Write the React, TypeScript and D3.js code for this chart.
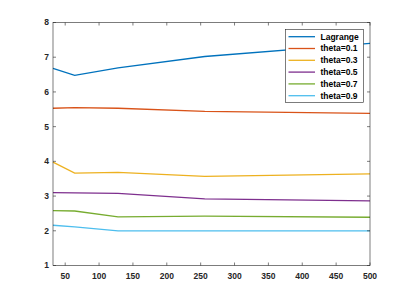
import { useEffect, useRef } from "react";
import * as d3 from "d3";

const xs = [32, 64, 128, 256, 500];
const seriesNames = ["Lagrange", "theta=0.1", "theta=0.3", "theta=0.5", "theta=0.7", "theta=0.9"];
const lagrange = [6.68, 6.48, 6.69, 7.02, 7.4];
const theta01 = [5.53, 5.55, 5.53, 5.44, 5.38];
const theta03 = [3.98, 3.66, 3.68, 3.57, 3.64];
const theta05 = [3.1, 3.09, 3.08, 2.92, 2.86];
const theta07 = [2.58, 2.57, 2.4, 2.42, 2.39];
const theta09 = [2.16, 2.11, 2.0, 2.0, 2.0];
const xTicks = [50, 100, 150, 200, 250, 300, 350, 400, 450, 500];
const yTicks = [1, 2, 3, 4, 5, 6, 7, 8];

const colors = ["#0072BD", "#D95319", "#EDB120", "#7E2F8E", "#77AC30", "#4DBEEE"];

export default function App() {
  const ref = useRef<SVGSVGElement | null>(null);

  useEffect(() => {
    if (!ref.current) return;
    const svg = d3.select(ref.current);
    svg.selectAll("*").remove();

    const left = 53, right = 370, top = 22.5, bottom = 265.5;
    const x = d3.scaleLinear().domain([32, 500]).range([left, right]);
    const y = d3.scaleLinear().domain([1, 8]).range([bottom, top]);
    const font = "'Liberation Sans', Arial, sans-serif";
    const axisColor = "#262626";

    svg.append("rect").attr("width", 409).attr("height", 300).attr("fill", "white");

    const all = [lagrange, theta01, theta03, theta05, theta07, theta09];
    const line = d3
      .line<number>()
      .x((_, i) => x(xs[i]))
      .y((d) => y(d));

    const g = svg.append("g");
    all.forEach((s, k) => {
      g.append("path")
        .attr("d", line(s)!)
        .attr("fill", "none")
        .attr("stroke", colors[k])
        .attr("stroke-width", 1.3);
    });

    // axes box + ticks (inside, all four sides)
    const ax = svg.append("g").attr("stroke", axisColor).attr("stroke-width", 0.6).attr("fill", "none");
    ax.append("rect")
      .attr("x", left)
      .attr("y", top)
      .attr("width", right - left)
      .attr("height", bottom - top);
    const tl = 3;
    xTicks.forEach((t) => {
      ax.append("line").attr("x1", x(t)).attr("x2", x(t)).attr("y1", bottom).attr("y2", bottom - tl);
      ax.append("line").attr("x1", x(t)).attr("x2", x(t)).attr("y1", top).attr("y2", top + tl);
    });
    yTicks.forEach((t) => {
      ax.append("line").attr("x1", left).attr("x2", left + tl).attr("y1", y(t)).attr("y2", y(t));
      ax.append("line").attr("x1", right).attr("x2", right - tl).attr("y1", y(t)).attr("y2", y(t));
    });

    const labels = svg
      .append("g")
      .style("font-family", font)
      .style("font-size", "8.5px")
      .style("font-weight", "bold")
      .attr("fill", axisColor);
    xTicks.forEach((t) => {
      labels.append("text").attr("x", x(t)).attr("y", bottom + 13).attr("text-anchor", "middle").text(t);
    });
    yTicks.forEach((t) => {
      labels.append("text").attr("x", left - 4).attr("y", y(t)).attr("dy", "0.35em").attr("text-anchor", "end").text(t);
    });

    // legend
    const lg = svg.append("g");
    lg.append("rect")
      .attr("x", 285.5)
      .attr("y", 29.5)
      .attr("width", 78)
      .attr("height", 73)
      .attr("fill", "white")
      .attr("stroke", axisColor)
      .attr("stroke-width", 0.6);
    seriesNames.forEach((name, k) => {
      const yy = 36.7 + k * 11.8;
      lg.append("line")
        .attr("x1", 288.5)
        .attr("x2", 315)
        .attr("y1", yy)
        .attr("y2", yy)
        .attr("stroke", colors[k])
        .attr("stroke-width", 1.3);
      lg.append("text")
        .attr("x", 320.5)
        .attr("y", yy)
        .attr("dy", "0.35em")
        .style("font-family", font)
        .style("font-size", "8.5px")
        .style("font-weight", "bold")
        .attr("fill", "#000")
        .text(name);
    });
  }, []);

  return (
    <svg
      ref={ref}
      width={409}
      height={300}
      style={{ position: "absolute", left: 0, top: 0, display: "block" }}
    />
  );
}
